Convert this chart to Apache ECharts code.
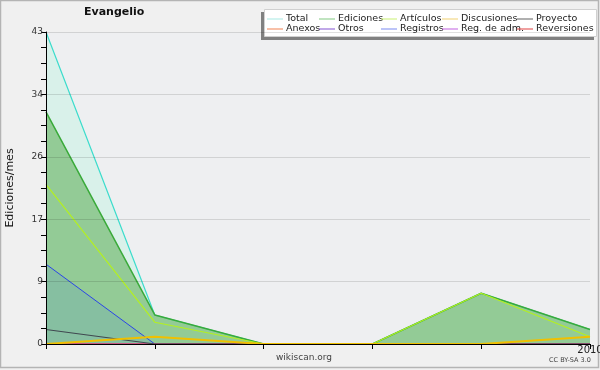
<!DOCTYPE html>
<html>
<head>
<meta charset="utf-8">
<script src="https://cdn.jsdelivr.net/npm/echarts@6/dist/echarts.min.js"></script>
<style>html,body{margin:0;padding:0;background:#f0f0f0;}#c{width:600px;height:370px;}</style>
</head>
<body>
<div id="c"></div>
<script>
// Data
var categories = ['', '', '', '', '', '2010'];
var total       = [43, 4, 0, 0, 7, 2];
var ediciones   = [32, 4, 0, 0, 7, 2];
var articulos   = [22, 3, 0, 0, 7, 1];
var discusiones = [0, 1, 0, 0, 0, 1];
var proyecto    = [2, 0, 0, 0, 0, 0];
var anexos      = [0, 0, 0, 0, 0, 0];
var otros       = [0, 0, 0, 0, 0, 0];
var registros   = [11, 0, 0, 0, 0, 0];
var regAdm      = [0, 0, 0, 0, 0, 0];
var reversiones = [0, 0, 0, 0, 0, 0];
var yTicks = [0, 9, 17, 26, 34, 43];

var FONT = 'DejaVu Sans';
var chart = echarts.init(document.getElementById('c'), null, {renderer: 'canvas'});

function lineSeries(name, data, color, width, area, z) {
  var s = {
    name: name, type: 'line', data: data, symbol: 'none', showSymbol: false,
    lineStyle: {color: color, width: width}, itemStyle: {color: color},
    z: z || 2, animation: false
  };
  if (area) s.areaStyle = {color: area, opacity: 1};
  return s;
}

var legendCols = [
  [['Total', '#a6e8e2'], ['Anexos', '#f08050']],
  [['Ediciones', '#80c880'], ['Otros', '#8050d0']],
  [['Artículos', '#c8f070'], ['Registros', '#7888f0']],
  [['Discusiones', '#f0d070'], ['Reg. de adm.', '#c060e0']],
  [['Proyecto', '#606060'], ['Reversiones', '#e04040']]
];
var legendLefts = [267, 319, 381, 442, 517];
var legends = legendCols.map(function (col, i) {
  return {
    orient: 'vertical', left: legendLefts[i], top: 14, padding: 0,
    itemGap: 0, itemWidth: 16, itemHeight: 1, icon: 'rect',
    textStyle: {fontFamily: FONT, fontSize: 9.5, color: '#222', lineHeight: 10, padding: [0, 0, 0, -2]},
    selectedMode: false,
    data: col.map(function (d) { return {name: d[0], itemStyle: {color: d[1]}}; })
  };
});

var option = {
  backgroundColor: '#f0f0f0',
  animation: false,
  title: {text: 'Evangelio', left: 84, top: 7, padding: 0,
    textStyle: {fontFamily: FONT, fontSize: 11, fontWeight: 'bold', color: '#111'}},
  legend: legends,
  grid: {left: 46, right: 10, top: 32, bottom: 26, show: true, backgroundColor: '#eeeff1', borderWidth: 0,
    containLabel: false, outerBoundsMode: 'none'},
  xAxis: {
    type: 'category', data: categories, boundaryGap: false, z: 3,
    axisLine: {lineStyle: {color: '#000', width: 1}},
    axisTick: {show: true, length: 5, interval: 0, lineStyle: {color: '#000'}},
    axisLabel: {interval: 0, fontFamily: FONT, fontSize: 10, color: '#222', margin: 1, showMaxLabel: true},
    splitLine: {show: false}
  },
  yAxis: {
    type: 'value', min: 0, max: 43, interval: 8.6, z: 3,
    name: 'Ediciones/mes', nameLocation: 'middle', nameGap: 30,
    nameTextStyle: {fontFamily: FONT, fontSize: 11, color: '#111'},
    axisLine: {show: true, lineStyle: {color: '#000', width: 1}},
    axisTick: {show: true, length: 5, lineStyle: {color: '#000'}},
    minorTick: {show: true, splitNumber: 4, length: 5, lineStyle: {color: '#000'}},
    axisLabel: {fontFamily: FONT, fontSize: 9, color: '#333', margin: 3,
      formatter: function (v) {
        var best = yTicks[0];
        yTicks.forEach(function (t) { if (Math.abs(t - v) < Math.abs(best - v)) best = t; });
        return String(best);
      }},
    splitLine: {show: true, lineStyle: {color: 'rgba(0,0,0,0.12)', width: 1}}
  },
  series: [
    lineSeries('Total', total, '#3cdccc', 1.2, '#d9f1ea'),
    lineSeries('Ediciones', ediciones, '#3aaa3a', 1.5, '#93cb96'),
    lineSeries('Registros', registros, '#2a44e8', 1, '#86bfa1'),
    lineSeries('Anexos', anexos, '#f08050', 1),
    lineSeries('Otros', otros, '#8050d0', 1),
    lineSeries('Reg. de adm.', regAdm, '#c060e0', 1),
    lineSeries('Reversiones', reversiones, '#e04040', 1),
    lineSeries('Proyecto', proyecto, '#404850', 1.2),
    lineSeries('Artículos', articulos, '#b4f020', 1.2),
    lineSeries('Discusiones', discusiones, '#f0c000', 2)
  ],
  graphic: [
    {type: 'rect', z: -10, silent: true, shape: {x: 0.5, y: 0.5, width: 598, height: 367},
      style: {fill: 'none', stroke: '#b4b4b4', lineWidth: 1.5}},
    {type: 'rect', z: 0, silent: true, shape: {x: 261, y: 12, width: 333, height: 28},
      style: {fill: '#808080'}},
    {type: 'rect', z: 0, silent: true, shape: {x: 264.5, y: 9.5, width: 332, height: 27},
      style: {fill: '#ffffff', stroke: '#d0d0d0', lineWidth: 1}},
    {type: 'text', z: 5, silent: true, left: 276, top: 353,
      style: {text: 'wikiscan.org', fontFamily: FONT, fontSize: 9, fill: '#444'}},
    {type: 'text', z: 5, silent: true, left: 549, top: 357,
      style: {text: 'CC BY-SA 3.0', fontFamily: FONT, fontSize: 6.5, fill: '#444'}}
  ]
};
chart.setOption(option);
</script>
</body>
</html>
